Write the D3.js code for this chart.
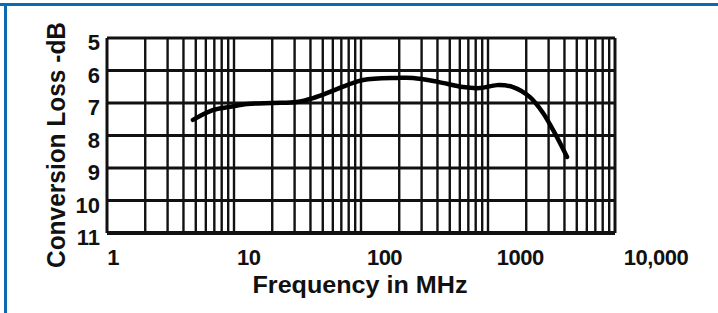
<!DOCTYPE html>
<html>
<head>
<meta charset="utf-8">
<script src="https://cdn.jsdelivr.net/npm/d3@7/dist/d3.min.js"></script>
<style>
  html, body { margin: 0; padding: 0; background: #fff; }
  svg { display: block; }
  text { font-family: "Liberation Sans", Arial, sans-serif; font-weight: bold; fill: #111; }
</style>
</head>
<body>
<svg id="chart" width="718" height="313"></svg>
<script>
// ---- data ----
const freqMHz = [4.75, 6.8, 9.3, 12.7, 20.3, 31.3, 41.9, 57, 77.6, 104, 192, 257, 404, 635, 865, 1178, 1574, 2142, 2713, 3250, 3690, 4190];
const lossDb  = [7.52, 7.22, 7.12, 7.03, 7.0, 6.97, 6.85, 6.66, 6.45, 6.29, 6.23, 6.23, 6.35, 6.51, 6.54, 6.45, 6.51, 6.82, 7.31, 7.83, 8.23, 8.66];
const yTicks = [5, 6, 7, 8, 9, 10, 11];
const xTickValues = [1, 10, 100, 1000, 10000];
const xTickLabels = ["1", "10", "100", "1000", "10,000"];
const xTitle = "Frequency in MHz";
const yTitle = "Conversion Loss -dB";

const svg = d3.select("#chart");
const W = 718, H = 313;
const plot = { left: 107, right: 615, top: 38, bottom: 233 };

const x = d3.scaleLog().domain([1, 10000]).range([plot.left, plot.right]);
const y = d3.scaleLinear().domain([5, 11]).range([plot.top, plot.bottom]);
// tick labels in the original are typeset slightly off the grid
const xLabel = d3.scaleLog().domain([1, 10000]).range([113, 656]);

// blue frame
svg.append("rect").attr("x", 0).attr("y", 3).attr("width", W).attr("height", 3).attr("fill", "#0d6ab0");
svg.append("rect").attr("x", 4).attr("y", 3).attr("width", 3).attr("height", H - 3).attr("fill", "#0d6ab0");

// vertical log grid lines
const vLines = [];
for (let d = 1; d < 10000; d *= 10) for (let m = 1; m <= 9; m++) vLines.push(d * m);
vLines.push(10000);
svg.append("g").selectAll("line").data(vLines).join("line")
  .attr("x1", d => x(d)).attr("x2", d => x(d))
  .attr("y1", plot.top).attr("y2", plot.bottom)
  .attr("stroke", "#111").attr("stroke-width", d => (d === 1 || d === 10000) ? 3 : 2.4);

// horizontal grid lines
svg.append("g").selectAll("line").data(yTicks).join("line")
  .attr("x1", plot.left).attr("x2", plot.right)
  .attr("y1", d => y(d)).attr("y2", d => y(d))
  .attr("stroke", "#111").attr("stroke-width", d => d === 11 ? 4 : 3);

// y tick labels
svg.append("g").selectAll("text").data(yTicks).join("text")
  .attr("x", 100).attr("y", d => y(d) + 12)
  .attr("text-anchor", "end").attr("font-size", 22)
  .text(d => d);

// x tick labels
svg.append("g").selectAll("text").data(xTickValues).join("text")
  .attr("x", d => xLabel(d)).attr("y", 265)
  .attr("text-anchor", "middle").attr("font-size", 22).attr("letter-spacing", -0.5)
  .text((d, i) => xTickLabels[i]);

// axis titles
svg.append("text").attr("x", 360).attr("y", 293).attr("text-anchor", "middle")
  .attr("font-size", 24).attr("textLength", 215).attr("lengthAdjust", "spacingAndGlyphs")
  .text(xTitle);
svg.append("text").attr("transform", "translate(65,145) rotate(-90)").attr("text-anchor", "middle")
  .attr("font-size", 25).attr("textLength", 246).attr("lengthAdjust", "spacingAndGlyphs")
  .text(yTitle);

// curve
const pts = freqMHz.map((f, i) => [f, lossDb[i]]);
svg.append("path").datum(pts)
  .attr("fill", "none").attr("stroke", "#000").attr("stroke-width", 4.5)
  .attr("stroke-linecap", "round").attr("stroke-linejoin", "round")
  .attr("d", d3.line().x(d => x(d[0])).y(d => y(d[1])).curve(d3.curveCatmullRom.alpha(0.5)));
</script>
</body>
</html>
